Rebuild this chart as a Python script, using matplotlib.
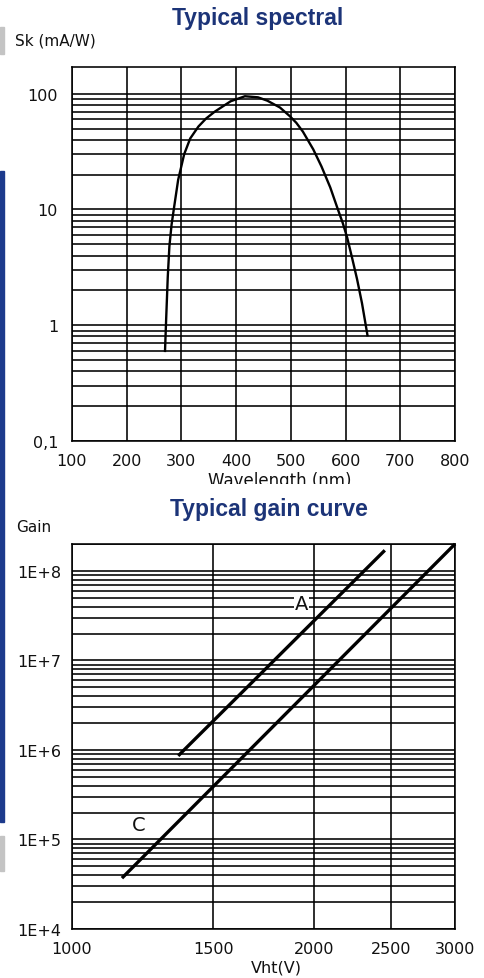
"""
plot.py - typical spectral response and gain curve (datasheet style).
"""
import matplotlib
matplotlib.use("Agg")
import matplotlib.pyplot as plt
import matplotlib.ticker as ticker
from matplotlib.patches import Rectangle
from matplotlib.transforms import Bbox, TransformedBbox


TITLE_CLR = "#1c3478"
TEXT_CLR  = "#111111"
GRID_CLR  = "#000000"

# spectral sensitivity
wavelength = [270, 272, 275, 278, 282, 286, 294, 305, 316, 331, 345, 361, 390,
              416, 440, 457, 480, 498, 510, 522, 541, 556, 572, 586, 595, 603,
              612, 621, 630, 640]
sk = [0.6, 1.1, 2.6, 4.8, 7.4, 10, 18, 30, 41, 52, 61, 70, 86,
      95, 93, 87, 76, 64, 56, 47, 33, 23.5, 15.5, 10, 7.6, 5.7,
      3.8, 2.5, 1.55, 0.82]

wl_ticks = [100, 200, 300, 400, 500, 600, 700, 800]
sk_ticks = [0.1, 1, 10, 100]
sk_labels = ["0,1", "1", "10", "100"]

# gain curves (straight lines on log-log)
vht_a  = [1356, 2453]
gain_a = [8.6e5, 1.7e8]
vht_c  = [1154, 3000]
gain_c = [3.7e4, 2.0e8]

vht_ticks = [1000, 1500, 2000, 2500, 3000]
gain_ticks = [1e4, 1e5, 1e6, 1e7, 1e8]
gain_labels = ["1E+4", "1E+5", "1E+6", "1E+7", "1E+8"]

plt.rcParams["font.family"] = ["DejaVu Sans"]

fig = plt.figure(figsize=(4.84, 9.79), dpi=100, facecolor="white")


def style_axes(ax):
    ax.grid(which="both", color=GRID_CLR, linewidth=1.15)
    ax.set_axisbelow(True)
    for sp in ax.spines.values():
        sp.set_color(GRID_CLR)
        sp.set_linewidth(1.15)
    ax.tick_params(which="both", length=0, colors=TEXT_CLR, labelsize=11.5)


# ── Top panel — spectral sensitivity ─────────────────────────────────────────
ax = fig.add_axes([72 / 484, 1 - 442 / 979, 383 / 484, 374 / 979])
ax.plot(wavelength, sk, color="black", linewidth=1.7, zorder=3)
ax.set_yscale("log")
ax.set_xlim(100, 800)
ax.set_ylim(0.1, 170)
ax.set_xticks(wl_ticks)
ax.set_yticks(sk_ticks)
ax.set_yticklabels(sk_labels)
ax.yaxis.set_minor_locator(ticker.LogLocator(base=10, subs=range(2, 10)))
ax.yaxis.set_minor_formatter(ticker.NullFormatter())
style_axes(ax)
ax.tick_params(axis="y", pad=10)
ax.tick_params(axis="x", pad=9)

# ── Bottom panel — gain ──────────────────────────────────────────────────────
ax2 = fig.add_axes([72 / 484, 1 - 930 / 979, 383 / 484, 385 / 979])
ax2.plot(vht_a, gain_a, color="black", linewidth=2.4, zorder=3,
         solid_capstyle="butt")
ax2.plot(vht_c, gain_c, color="black", linewidth=2.4, zorder=3,
         solid_capstyle="butt", clip_on=False)
ax2.set_xscale("log")
ax2.set_yscale("log")
ax2.set_xlim(1000, 3000)
ax2.set_ylim(1e4, 2e8)
ax2.xaxis.set_minor_locator(ticker.NullLocator())
ax2.set_xticks(vht_ticks)
ax2.set_xticklabels([str(v) for v in vht_ticks])
ax2.set_yticks(gain_ticks)
ax2.set_yticklabels(gain_labels)
ax2.yaxis.set_minor_locator(ticker.LogLocator(base=10, subs=range(2, 10)))
ax2.yaxis.set_minor_formatter(ticker.NullFormatter())
style_axes(ax2)
ax2.tick_params(axis="y", pad=8)
ax2.tick_params(axis="x", pad=9)

ax2.text(1934, 4.3e7, "A", fontsize=14, color=TEXT_CLR, ha="center",
         va="center", zorder=4,
         bbox=dict(facecolor="white", edgecolor="none", pad=0.5))
ax2.text(1212, 1.47e5, "C", fontsize=14, color=TEXT_CLR, ha="center",
         va="center", zorder=4)

# ── Titles and axis labels ───────────────────────────────────────────────────
fig.text(258 / 484, 1 - 19 / 979, "Typical spectral", family="Liberation Sans",
         fontweight="bold", fontsize=16.5, color=TITLE_CLR,
         ha="center", va="center")
fig.text(269 / 484, 1 - 510 / 979, "Typical gain curve",
         family="Liberation Sans", fontweight="bold", fontsize=16.5,
         color=TITLE_CLR, ha="center", va="center")
fig.text(15 / 484, 1 - 41 / 979, "Sk (mA/W)", fontsize=11, color=TEXT_CLR,
         ha="left", va="center")
fig.text(16 / 484, 1 - 528 / 979, "Gain", fontsize=11, color=TEXT_CLR,
         ha="left", va="center")
wl_lab = fig.text(280 / 484, 1 - 481 / 979, "Wavelength (nm)", fontsize=12,
                  color=TEXT_CLR, ha="center", va="center")
wl_lab.set_clip_box(TransformedBbox(Bbox([[0, 1 - 485 / 979], [1, 1]]),
                                    fig.transFigure))
wl_lab.set_clip_on(True)
fig.text(276 / 484, 1 - 968 / 979, "Vht(V)", fontsize=11.5, color=TEXT_CLR,
         ha="center", va="center")

# page edge marks from the source document
fig.patches.append(Rectangle((0, 1 - 55 / 979), 4 / 484, 27 / 979,
                             transform=fig.transFigure, color="#c4c4c4"))
fig.patches.append(Rectangle((0, 1 - 823 / 979), 4 / 484, 651 / 979,
                             transform=fig.transFigure, color="#1c3a8c"))
fig.patches.append(Rectangle((0, 1 - 872 / 979), 4 / 484, 35 / 979,
                             transform=fig.transFigure, color="#c4c4c4"))

fig.savefig("out.png", dpi=100, facecolor="white")
